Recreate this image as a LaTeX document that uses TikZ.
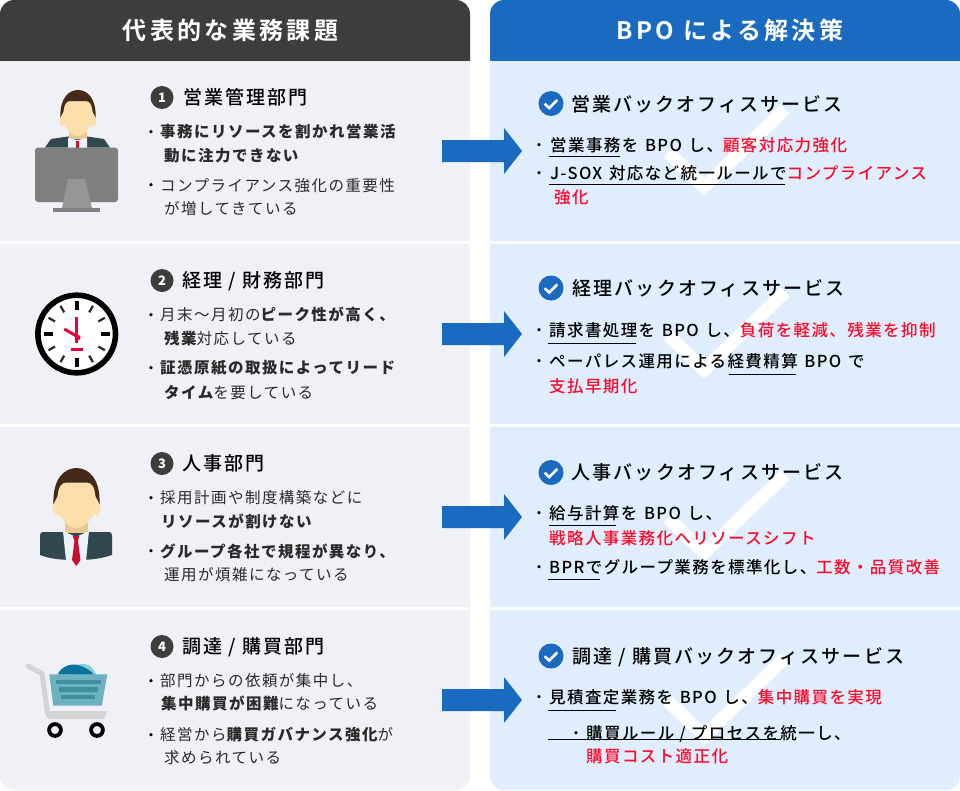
\documentclass[tikz,border=0pt]{standalone}
\usepackage{fontspec}
\setmainfont{Noto Sans CJK JP}[LetterSpace=9.5]
\newfontfamily\jpbody{Noto Sans CJK JP Medium}[LetterSpace=8.5]
\newfontfamily\jphead{Noto Sans CJK JP Medium}[LetterSpace=11]
\newfontfamily\jptitle{Noto Sans CJK JP Bold}[LetterSpace=14]
\definecolor{hdark}{HTML}{3D3D3D}
\definecolor{hblue}{HTML}{1A6AC0}
\definecolor{lpanel}{HTML}{EFF1F6}
\definecolor{rpanel}{HTML}{DFEDFC}
\definecolor{hotred}{HTML}{FF0A2A}
\definecolor{inktxt}{HTML}{2A2A2A}
\definecolor{hairc}{HTML}{45291A}
\definecolor{skinc}{HTML}{FCDFAA}
\definecolor{neckc}{HTML}{EEC78F}
\definecolor{suitc}{HTML}{33474F}
\definecolor{shirtc}{HTML}{E9F3FA}
\definecolor{tiec}{HTML}{C8102E}
\definecolor{clockred}{HTML}{E6003C}
\definecolor{cartlight}{HTML}{85CFD8}
\definecolor{cartblue}{HTML}{05739C}
\definecolor{cartbasket}{HTML}{6DB1C1}
\definecolor{cartstripe}{HTML}{3D8F99}
\newcommand{\bd}[1]{{\bfseries #1}}
\newcommand{\rd}[1]{\textcolor{hotred}{#1}}
\newcommand{\wsp}{\hskip 1.6pt\ }
\newcommand{\ltxt}[4]{\node[ltext] (#1) at (#2,#3) {#4};}
\newcommand{\rtxt}[4]{\node[rtext] (#1) at (#2,#3) {#4};}
\newcommand{\bul}[3]{\node[bulletmark] (#1) at (#2,#3) {・};}
\tikzset{
  ltext/.style={anchor=base west,inner sep=0pt,text=inktxt,font=\fontsize{15.5}{15.5}\selectfont,yshift=-5.9pt},
  rtext/.style={anchor=base west,inner sep=0pt,text=black,font=\fontsize{16.5}{16.5}\jpbody,yshift=-6.2pt},
  bulletmark/.style={anchor=base,inner sep=0pt,text=black,font=\fontsize{14}{14}\jpbody,yshift=-5.3pt},
  headtext/.style={anchor=base west,inner sep=0pt,text=black,font=\fontsize{19}{19}\jphead,yshift=-7.2pt},
  titletext/.style={anchor=center,inner sep=0pt,text=white,font=\fontsize{24}{24}\jptitle},
  numbadge/.style={circle,fill=hdark,text=white,minimum size=23pt,inner sep=0pt,font=\fontsize{13}{13}\selectfont\bfseries},
  underrule/.style={draw=black,line width=1pt},
  bigarrow/.style={fill=hblue},
  bgcheck/.style={draw=white,line width=13pt,miter limit=10},
  pics/headicon/.style={code={
    \fill[skinc] (-20,38) ellipse [x radius=4,y radius=9.5];
    \fill[skinc] (20,38) ellipse [x radius=4,y radius=9.5];
    \fill[skinc] (-20,12) -- (20,12) -- (20,36) .. controls (19,48) and (9,60) .. (0,60) .. controls (-9,60) and (-19,48) .. (-20,36) -- cycle;
    \fill[hairc] (-23,36) .. controls (-24,12) and (-13,0) .. (0,0) .. controls (13,0) and (24,12) .. (23,36) -- (19,28) .. controls (18,18) and (15,15) .. (11,14.5) -- (-11,14.5) .. controls (-15,15) and (-18,18) .. (-19,28) -- cycle;
  }},
  pics/okbadge/.style={code={
    \fill[hblue] (0,0) circle (12.5);
    \draw[white,line width=2.6pt] (-6.3,0.2) -- (-1.8,4.6) -- (6.3,-3.6);
  }},
  pics/blockarrow/.style={code={
    \fill[bigarrow] (442,-11) -- (504,-11) -- (504,-23) -- (522,0) -- (504,23) -- (504,11) -- (442,11) -- cycle;
  }},
}
\begin{document}
\begin{tikzpicture}[x=1pt,y=-1pt]
\useasboundingbox (0,0) rectangle (960,790);
% panels
\fill[hdark] (0,61) [rounded corners=14pt] -- (0,0) -- (470,0) [sharp corners] -- (470,61) -- cycle;
\fill[hblue] (490,61) [rounded corners=14pt] -- (490,0) -- (960,0) [sharp corners] -- (960,61) -- cycle;
\fill[lpanel] (0,61) rectangle (470,241);
\fill[lpanel] (0,244) rectangle (470,423.5);
\fill[lpanel] (0,426.5) rectangle (470,607);
\fill[lpanel] (0,610) [sharp corners] -- (470,610) [rounded corners=14pt] -- (470,790) -- (0,790) [sharp corners] -- cycle;
\fill[rpanel] (490,61) rectangle (960,241);
\fill[rpanel] (490,244) rectangle (960,423.5);
\fill[rpanel] (490,426.5) rectangle (960,607);
\fill[rpanel] (490,610) -- (960,610) [rounded corners=14pt] -- (960,790) -- (490,790) [sharp corners] -- cycle;
\node[titletext] (titleL) at (230.5,30.5) {代表的な業務課題};
\node[titletext] (titleR) at (730,30.5) {BPO による解決策};
% white check marks
\foreach \dy in {0,183,366,549} {
  \draw[bgcheck] (668,\dy+152) -- (704,\dy+187) -- (785,\dy+109);
}
% arrows
\pic at (0,151) {blockarrow};
\pic at (0,334) {blockarrow};
\pic at (0,517) {blockarrow};
\pic at (0,700) {blockarrow};
% icon 1
\fill[suitc] (45,147.5) -- (51,139) -- (68,136.5) -- (87,136.5) -- (104,139) -- (110,147.5) -- cycle;
\fill[neckc] (69,130) rectangle (87,139);
\fill[shirtc] (68,138) -- (77.5,140) -- (87,138) -- (87,148) -- (68,148) -- cycle;
\fill[tiec] (76.3,141) rectangle (78.6,148);
\pic[scale=.765] at (78,90) {headicon};
\fill[black!50] (35,147.5) [rounded corners=3pt] -- (118,147.5) -- (118,202) -- (35,202) -- cycle;
\fill[black!41] (68,179) -- (85,179) -- (92,208) -- (62,208) -- cycle;
\fill[black!50] (53,208) rectangle (100,212);
% icon 2
\fill[white] (76.7,334) circle (37);
\draw[black,line width=5.6pt] (76.7,334) circle (38.8);
\foreach \a in {0,90,180,270} {
  \draw[black,line width=4pt] ([shift={(\a:24)}]76.7,334) -- ([shift={(\a:33)}]76.7,334);
}
\foreach \a in {30,60,120,150,210,240,300,330} {
  \draw[black!85,line width=2.2pt] ([shift={(\a:25)}]76.7,334) -- ([shift={(\a:32.5)}]76.7,334);
}
\draw[clockred,line width=3pt] (76.7,317) -- (76.7,343);
\draw[clockred,line width=3pt] (64.3,329) -- (79,337.5);
\fill[clockred] (78,337.5) circle (2.6);
\fill[clockred] (71,348) rectangle (83,351.4);
% icon 3
\fill[suitc] (40,536) [rounded corners=3pt] -- (40,532) -- (112,532) [sharp corners] -- (112,555) .. controls (100,559) and (90,560) .. (76,560) .. controls (62,560) and (50,559) .. (40,555) -- cycle;
\fill[neckc] (65,522) rectangle (88,533);
\fill[shirtc] (63,531) -- (76,537) -- (89,531) -- (86,561) -- (66,561) -- cycle;
\fill[tiec] (72.7,536) -- (79.3,536) -- (78,541) -- (80.5,560) -- (76.3,566) -- (72,560) -- (74.5,541) -- cycle;
\pic at (76.5,468) {headicon};
% icon 4
\fill[black!17] (47,711) -- (107,711) -- (104,719) -- (50,719) .. controls (47,719) and (46,717) .. (46,714) -- cycle;
\draw[black!17,line width=5pt,line join=round,line cap=round] (28,666) -- (42,673.5) -- (47.8,714);
\fill[cartlight] (72,668) .. controls (78,663) and (88,662) .. (93,669) -- (97,675) -- (72,675) -- cycle;
\fill[cartblue] (57.7,674.5) .. controls (61,667) and (70,663) .. (78,665) .. controls (85,667) and (90,670) .. (94,674.5) -- cycle;
\fill[cartbasket] (49.3,674.3) -- (107.3,674.3) -- (101.7,705.7) -- (53.3,705.7) -- cycle;
\fill[cartstripe] (56,679.7) rectangle (101,684);
\fill[cartstripe] (58.7,687.3) rectangle (98.3,691.7);
\fill[cartstripe] (61.3,695.3) rectangle (95.3,699.3);
\draw[black,line width=3.8pt] (55,730) circle (5.9);
\draw[black,line width=3.8pt] (97,730) circle (5.9);
% left headings
\node[numbadge] (n1) at (162,97.5) {1};
\node[numbadge] (n2) at (162,280.5) {2};
\node[numbadge] (n3) at (162,463.5) {3};
\node[numbadge] (n4) at (162,646.5) {4};
\node[headtext] (h1) at (183,97) {営業管理部門};
\node[headtext] (h2) at (182,280) {経理 / 財務部門};
\node[headtext] (h3) at (182,463) {人事部門};
\node[headtext] (h4) at (182,646) {調達 / 購買部門};
% left body
\bul{b1a}{151}{132}\ltxt{l1a}{160}{131.5}{\bd{事務にリソースを割かれ営業活}}
\ltxt{l1b}{164}{156}{\bd{動に注力できない}}
\bul{b1b}{151}{185}\ltxt{l1c}{160}{185.5}{コンプライアンス強化の重要性}
\ltxt{l1d}{164}{209}{が増してきている}
\bul{b2a}{151}{315}\ltxt{l2a}{160}{315}{月末〜月初の\bd{ピーク性が高く、}}
\ltxt{l2b}{164}{338.5}{\bd{残業}対応している}
\bul{b2b}{151}{368}\ltxt{l2c}{160}{368}{\bd{証憑原紙の取扱によってリード}}
\ltxt{l2d}{164}{392.5}{\bd{タイム}を要している}
\bul{b3a}{151}{498}\ltxt{l3a}{160}{498}{採用計画や制度構築などに}
\ltxt{l3b}{161}{521.5}{\bd{リソースが割けない}}
\bul{b3b}{151}{551.5}\ltxt{l3c}{160}{551.5}{\bd{グループ各社で規程が異なり、}}
\ltxt{l3d}{164}{575}{運用が煩雑になっている}
\bul{b4a}{151}{681}\ltxt{l4a}{160}{681}{部門からの依頼が集中し、}
\ltxt{l4b}{161}{704}{\bd{集中購買が困難}になっている}
\bul{b4b}{151}{735}\ltxt{l4c}{160}{735}{経営から\bd{購買ガバナンス強化}が}
\ltxt{l4d}{164}{758}{求められている}
% right headings
\pic at (551,103.5) {okbadge};
\pic at (551,288) {okbadge};
\pic at (551,472.5) {okbadge};
\pic at (551,656) {okbadge};
\node[headtext] (s1) at (571,104) {営業バックオフィスサービス};
\node[headtext] (s2) at (572.5,288) {経理バックオフィスサービス};
\node[headtext] (s3) at (571.5,472) {人事バックオフィスサービス};
\node[headtext] (s4) at (572,656) {調達 / 購買バックオフィスサービス};
% right body
\bul{c1a}{539}{145}\rtxt{r1a}{550}{145}{営業事務を\wsp BPO\wsp し、\rd{顧客対応力強化}}
\draw[underrule] (549,156.5) -- (620,156.5);
\bul{c1b}{539}{173}\rtxt{r1b}{550}{173}{J-SOX\wsp 対応など統一ルールで\rd{コンプライアンス}}
\draw[underrule] (549,184.5) -- (785,184.5);
\rtxt{r1c}{554}{197}{\rd{強化}}
\bul{c2a}{539}{330}\rtxt{r2a}{549}{330}{請求書処理を\wsp BPO\wsp し、\rd{負荷を軽減、残業を抑制}}
\draw[underrule] (548,343.5) -- (636,343.5);
\bul{c2b}{539}{361}\rtxt{r2b}{549}{361}{ペーパレス運用による経費精算\wsp BPO\wsp で}
\draw[underrule] (729,374.5) -- (796,374.5);
\rtxt{r2c}{549}{386}{\rd{支払早期化}}
\bul{c3a}{539}{513}\rtxt{r3a}{549}{513}{給与計算を\wsp BPO\wsp し、}
\draw[underrule] (549,525.5) -- (616,525.5);
\rtxt{r3b}{549}{538}{\rd{戦略人事業務化へリソースシフト}}
\bul{c3b}{539}{567}\rtxt{r3c}{549}{567}{BPRでグループ業務を標準化し、\rd{工数・品質改善}}
\draw[underrule] (548,579.5) -- (600,579.5);
\bul{c4a}{539}{697}\rtxt{r4a}{549}{697}{見積査定業務を\wsp BPO\wsp し、\rd{集中購買を実現}}
\draw[underrule] (548,710.5) -- (616,710.5);
\bul{c4b}{576}{733}\rtxt{r4b}{586}{733}{購買ルール / プロセスを統一し、}
\draw[underrule] (548,739.5) -- (781,739.5);
\rtxt{r4c}{586}{756}{\rd{購買コスト適正化}}
\end{tikzpicture}
\end{document}
